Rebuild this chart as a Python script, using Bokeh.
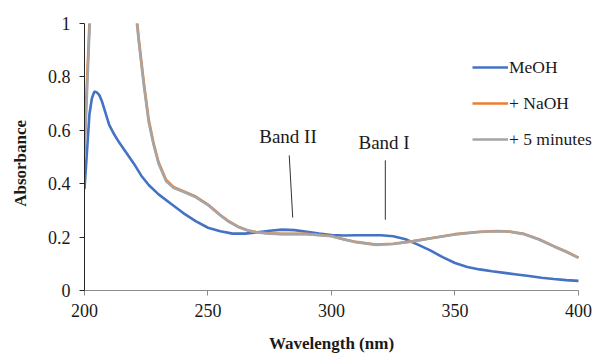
from bokeh.plotting import figure
from bokeh.models import Range1d, Legend, LegendItem, FixedTicker, Label
from bokeh.embed import file_html
from bokeh.resources import INLINE

# --- data ---
wl_meoh = [200, 201, 202, 203, 204, 205, 206, 207, 208, 210, 212, 214, 217, 220, 223, 226,
           230, 235, 240, 245, 250, 255, 260, 265, 270, 275, 280, 285, 290, 295, 300, 305,
           310, 315, 320, 325, 330, 335, 340, 345, 350, 355, 360, 365, 370, 375, 380, 385,
           390, 395, 400]
abs_meoh = [0.38, 0.52, 0.66, 0.72, 0.745, 0.742, 0.732, 0.71, 0.68, 0.62, 0.585, 0.555,
            0.515, 0.475, 0.43, 0.395, 0.36, 0.325, 0.29, 0.26, 0.235, 0.222, 0.213, 0.213,
            0.218, 0.224, 0.228, 0.226, 0.22, 0.213, 0.208, 0.206, 0.207, 0.207, 0.207, 0.203,
            0.192, 0.172, 0.15, 0.125, 0.103, 0.088, 0.079, 0.072, 0.066, 0.06, 0.054, 0.048,
            0.043, 0.039, 0.036]

wl_naoh = [200, 201, 202, 203, 205, 208, 212, 216, 219, 221, 222, 224, 226, 228, 230, 233,
           236, 240, 245, 250, 255, 258, 262, 266, 270, 275, 280, 290, 300, 305, 310, 318,
           325, 333, 340, 350, 360, 367, 372, 378, 384, 390, 395, 400]
abs_naoh = [0.56, 0.78, 1.0, 1.2, 1.6, 1.9, 2.0, 1.8, 1.35, 1.04, 0.94, 0.78, 0.64, 0.55,
            0.48, 0.415, 0.388, 0.372, 0.352, 0.322, 0.283, 0.262, 0.24, 0.226, 0.218, 0.214,
            0.212, 0.212, 0.204, 0.192, 0.182, 0.172, 0.175, 0.185, 0.196, 0.211, 0.22, 0.223,
            0.221, 0.212, 0.192, 0.166, 0.146, 0.123]

wl_5min = [200, 201, 202, 203, 205, 208, 212, 216, 219, 221, 222, 224, 226, 228, 230, 233,
           236, 240, 245, 250, 255, 258, 262, 266, 270, 275, 280, 290, 300, 305, 310, 318,
           325, 333, 340, 350, 360, 367, 372, 378, 384, 390, 395, 400]
abs_5min = [0.5, 0.74, 0.97, 1.18, 1.6, 1.9, 2.0, 1.8, 1.33, 1.02, 0.93, 0.77, 0.63, 0.545,
            0.475, 0.41, 0.385, 0.37, 0.35, 0.32, 0.281, 0.26, 0.239, 0.225, 0.217, 0.213,
            0.211, 0.211, 0.203, 0.191, 0.181, 0.171, 0.174, 0.184, 0.195, 0.21, 0.219, 0.222,
            0.22, 0.211, 0.191, 0.165, 0.145, 0.122]

series_names = ["MeOH", "+ NaOH", "+ 5 minutes"]
x_ticks = [200, 250, 300, 350, 400]
y_ticks = [0, 0.2, 0.4, 0.6, 0.8, 1]

SERIF = "Liberation Serif"
TXT = "#1a1a1a"
NBSP = "\u00a0"

# frame spans to the right edge so the legend is not clipped; the axis stops at 400
p = figure(width=595, height=356, output_backend="svg", toolbar_location=None,
           x_range=Range1d(200, 406.9), y_range=Range1d(0, 1),
           min_border_left=84, min_border_right=0, min_border_top=23, min_border_bottom=66)
p.outline_line_color = None
p.xgrid.visible = False
p.ygrid.visible = False
p.background_fill_color = "white"
p.border_fill_color = "white"

r_meoh = p.line(wl_meoh, abs_meoh, line_color="#4472C4", line_width=2.6)
r_naoh = p.line(wl_naoh, abs_naoh, line_color="#ED7D31", line_width=2.6)
r_5min = p.line(wl_5min, abs_5min, line_color="#A5A5A5", line_width=2.6)

# axes
p.xaxis.ticker = FixedTicker(ticks=x_ticks)
p.xaxis.bounds = (200, 400)
p.yaxis.ticker = FixedTicker(ticks=y_ticks)
p.yaxis.major_label_overrides = {0: "0", 0.2: "0.2", 0.4: "0.4", 0.6: "0.6", 0.8: "0.8", 1: "1"}
for ax in (p.xaxis, p.yaxis):
    ax.minor_tick_line_color = None
    ax.major_tick_in = 0
    ax.major_tick_out = 5
    ax.major_label_text_font = SERIF
    ax.major_label_text_font_size = "18px"
    ax.major_label_text_color = TXT
    ax.axis_label_text_font = SERIF
    ax.axis_label_text_font_size = "17px"
    ax.axis_label_text_font_style = "bold"
    ax.axis_label_text_color = TXT
p.xaxis.axis_line_color = "#8c8c8c"
p.xaxis.major_tick_line_color = "#8c8c8c"
p.yaxis.axis_line_color = "#262626"
p.yaxis.major_tick_line_color = "#262626"
p.xaxis.major_label_standoff = 8
p.yaxis.major_label_standoff = 9
# trailing no-break spaces shift the centred titles to where the reference has them
p.xaxis.axis_label = "Wavelength (nm)" + NBSP * 4
p.yaxis.axis_label = "Absorbance" + NBSP * 3
p.xaxis.axis_label_standoff = 14
p.yaxis.axis_label_standoff = 15

# band annotations
p.segment(x0=[282.9, 321.8], y0=[0.506, 0.4875], x1=[284.3, 321.8], y1=[0.273, 0.265],
          line_color="#333333", line_width=1)
p.add_layout(Label(x=282.4, y=0.575, text="Band II", text_align="center",
                   text_baseline="middle", text_font=SERIF, text_font_size="19px",
                   text_color=TXT))
p.add_layout(Label(x=321.3, y=0.554, text="Band I", text_align="center",
                   text_baseline="middle", text_font=SERIF, text_font_size="19px",
                   text_color=TXT))

legend = Legend(items=[LegendItem(label=series_names[0], renderers=[r_meoh]),
                       LegendItem(label=series_names[1], renderers=[r_naoh]),
                       LegendItem(label=series_names[2], renderers=[r_5min])],
                location=(388, 140), orientation="vertical")
legend.background_fill_alpha = 0
legend.border_line_color = None
legend.padding = 0
legend.margin = 0
legend.spacing = 14
legend.glyph_width = 36
legend.glyph_height = 22
legend.label_height = 22
legend.label_standoff = 1
legend.label_text_font = SERIF
legend.label_text_font_size = "17.5px"
legend.label_text_color = TXT
p.add_layout(legend)

open("out.html", "w").write(file_html(p, INLINE))
